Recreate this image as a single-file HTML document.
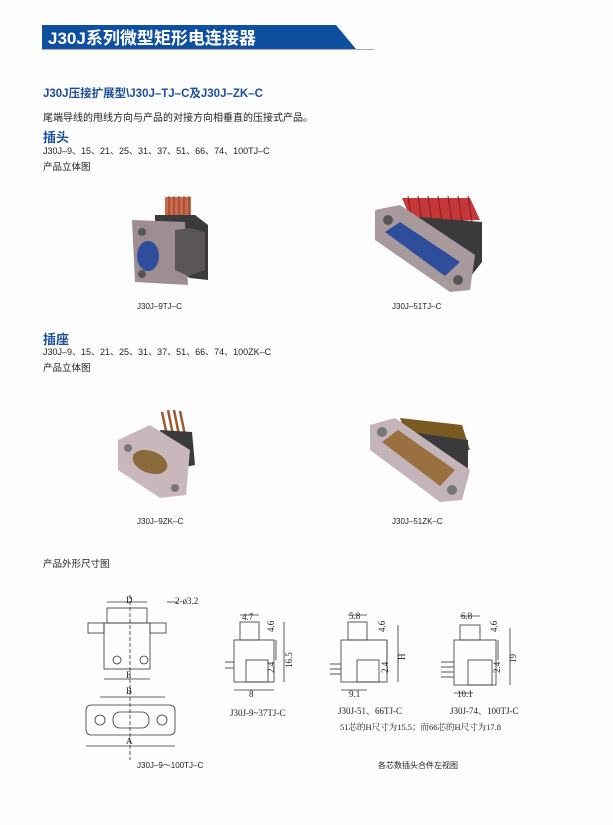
<!DOCTYPE html>
<html><head><meta charset="utf-8"><style>
html,body{margin:0;padding:0;background:#fdfdfd;}
svg{display:block;font-family:"Liberation Sans","Noto Sans CJK SC",sans-serif;}
.s{font-family:"Liberation Serif","Noto Serif CJK SC",serif;}
</style></head><body>
<svg width="613" height="825" viewBox="0 0 613 825" xmlns="http://www.w3.org/2000/svg">
<rect width="613" height="825" fill="#fdfdfd"/>
<!-- header -->
<polygon points="42,25 336,25 356,49 42,49" fill="#0f4fa0"/>
<line x1="42" y1="49.5" x2="374" y2="49.5" stroke="#aab" stroke-width="1"/>
<text x="48" y="44" font-size="17" font-weight="bold" fill="#fff">J30J系列微型矩形电连接器</text>
<text x="43" y="97" font-size="11.5" font-weight="bold" fill="#1b4d9c">J30J压接扩展型\J30J–TJ–C及J30J–ZK–C</text>
<text x="43" y="121" font-size="10" fill="#222">尾端导线的甩线方向与产品的对接方向相垂直的压接式产品。</text>
<text x="43" y="142" font-size="13" font-weight="bold" fill="#1b4d9c">插头</text>
<text x="43" y="154" font-size="9" fill="#222">J30J–9、15、21、25、31、37、51、66、74、100TJ–C</text>
<text x="43" y="170" font-size="9.5" fill="#222">产品立体图</text>

<!-- plug 1 -->
<g>
<rect x="165" y="197" width="26" height="28" fill="#c96a4a"/>
<g stroke="#8a3a20" stroke-width="1"><line x1="169" y1="196" x2="169" y2="222"/><line x1="174" y1="196" x2="174" y2="222"/><line x1="179" y1="196" x2="179" y2="222"/><line x1="184" y1="196" x2="184" y2="222"/><line x1="189" y1="196" x2="189" y2="222"/></g>
<polygon points="155,215 195,215 208,225 208,280 190,278 175,270 155,265" fill="#3b3a3c"/>
<polygon points="132,220 185,222 188,285 135,282" fill="#9e8e92" rx="4"/>
<circle cx="142" cy="232" r="4" fill="#555"/><circle cx="142" cy="274" r="4" fill="#555"/>
<ellipse cx="148" cy="256" rx="11" ry="15" fill="#2e4d9a"/>
<polygon points="175,230 190,228 205,232 205,270 188,276 175,270" fill="#5a5558"/>
</g>
<!-- plug 2 -->
<g>
<polygon points="402,198 470,198 480,220 412,222" fill="#c4383a"/>
<g stroke="#8a1a20" stroke-width="1"><line x1="408" y1="196" x2="412" y2="222"/><line x1="418" y1="196" x2="422" y2="222"/><line x1="428" y1="196" x2="432" y2="222"/><line x1="438" y1="196" x2="442" y2="222"/><line x1="448" y1="196" x2="452" y2="222"/><line x1="458" y1="196" x2="462" y2="222"/><line x1="468" y1="196" x2="472" y2="222"/></g>
<polygon points="395,215 482,222 482,262 460,290 395,250" fill="#3b3a3c"/>
<polygon points="375,210 400,205 475,255 470,290 450,292 375,240" fill="#a89a9c"/>
<circle cx="388" cy="220" r="5" fill="#555"/><circle cx="458" cy="280" r="5" fill="#555"/>
<polygon points="385,232 400,222 460,262 445,276" fill="#2e4d9a"/>
</g>
<text x="137" y="309" font-size="8" fill="#222">J30J–9TJ–C</text>
<text x="392" y="309" font-size="8" fill="#222">J30J–51TJ–C</text>

<text x="43" y="344" font-size="13" font-weight="bold" fill="#1b4d9c">插座</text>
<text x="43" y="355" font-size="9" fill="#222">J30J–9、15、21、25、31、37、51、66、74、100ZK–C</text>
<text x="43" y="371" font-size="9.5" fill="#222">产品立体图</text>

<!-- socket 1 -->
<g>
<g stroke="#9a5a30" stroke-width="2.5"><line x1="162" y1="412" x2="168" y2="440"/><line x1="168" y1="410" x2="174" y2="440"/><line x1="174" y1="410" x2="180" y2="440"/><line x1="180" y1="411" x2="186" y2="440"/></g>
<polygon points="160,430 192,432 195,465 170,470" fill="#3b3a3c"/>
<polygon points="118,440 150,425 190,450 186,495 160,498 118,470" fill="#c8b8bc"/>
<circle cx="128" cy="448" r="4" fill="#777"/><circle cx="175" cy="488" r="4" fill="#777"/>
<ellipse cx="150" cy="462" rx="18" ry="11" fill="#8a6a3a" transform="rotate(20 150 462)"/>
</g>
<!-- socket 2 -->
<g>
<polygon points="400,418 462,425 470,450 410,445" fill="#7a5a20"/>
<polygon points="395,430 468,440 468,478 440,500 395,460" fill="#3b3a3c"/>
<polygon points="370,425 395,418 470,470 462,500 440,502 370,450" fill="#c2b4b8"/>
<circle cx="382" cy="432" r="5" fill="#777"/><circle cx="452" cy="490" r="5" fill="#777"/>
<polygon points="382,442 398,430 455,470 440,486" fill="#9a7040"/>
</g>
<text x="137" y="524" font-size="8" fill="#222">J30J–9ZK–C</text>
<text x="392" y="524" font-size="8" fill="#222">J30J–51ZK–C</text>

<text x="43" y="567" font-size="9.5" fill="#222">产品外形尺寸图</text>

<!-- drawings -->
<g stroke="#333" stroke-width="0.8" fill="none">
<!-- left front view -->
<rect x="107" y="608" width="40" height="15"/>
<rect x="104" y="623" width="46" height="46"/>
<rect x="88" y="623" width="16" height="10"/><rect x="150" y="623" width="16" height="10"/>
<circle cx="117" cy="660" r="4"/><circle cx="144" cy="660" r="4"/>
<line x1="107" y1="602" x2="147" y2="602"/><line x1="104" y1="679" x2="150" y2="679"/>
<line x1="100" y1="697" x2="165" y2="697"/><line x1="86" y1="746" x2="175" y2="746"/>
<line x1="167" y1="602" x2="178" y2="602"/>
<rect x="86" y="705" width="89" height="30" rx="5"/>
<rect x="113" y="712" width="36" height="16" rx="7"/>
<circle cx="100" cy="720" r="5"/><circle cx="162" cy="720" r="5"/>
<line x1="130" y1="595" x2="130" y2="760" stroke-dasharray="4,2"/>
<!-- side views -->
<rect x="240" y="622" width="19" height="18"/><rect x="234" y="640" width="40" height="42"/><rect x="246" y="660" width="22" height="22"/>
<line x1="240" y1="615" x2="259" y2="615"/><line x1="234" y1="690" x2="274" y2="690"/><line x1="284" y1="622" x2="284" y2="682"/><line x1="276" y1="640" x2="276" y2="660"/>
<rect x="348" y="622" width="19" height="18"/><rect x="341" y="640" width="46" height="42"/><rect x="357" y="660" width="22" height="22"/>
<line x1="348" y1="615" x2="367" y2="615"/><line x1="341" y1="690" x2="367" y2="690"/><line x1="398" y1="625" x2="398" y2="682"/><line x1="387" y1="640" x2="387" y2="660"/>
<rect x="460" y="625" width="20" height="15"/><rect x="454" y="640" width="42" height="45"/><rect x="468" y="660" width="24" height="25"/>
<line x1="460" y1="616" x2="480" y2="616"/><line x1="454" y1="693" x2="473" y2="693"/><line x1="510" y1="628" x2="510" y2="685"/><line x1="498" y1="640" x2="498" y2="660"/>
</g>
<g stroke="#555" stroke-width="1"><line x1="225" y1="662" x2="234" y2="662"/><line x1="225" y1="668" x2="234" y2="668"/>
<line x1="330" y1="664" x2="341" y2="664"/><line x1="330" y1="669" x2="341" y2="669"/><line x1="330" y1="674" x2="341" y2="674"/>
<line x1="441" y1="662" x2="454" y2="662"/><line x1="441" y1="667" x2="454" y2="667"/><line x1="441" y1="672" x2="454" y2="672"/><line x1="441" y1="677" x2="454" y2="677"/></g>
<g class="s" font-size="9" fill="#222">
<text x="126" y="603">D</text><text x="175" y="604">2-ø3.2</text><text x="126" y="678">E</text><text x="126" y="694">B</text><text x="126" y="744">A</text>
<text x="242" y="620">4.7</text><text x="349" y="619">5.8</text><text x="461" y="619">6.8</text>
<text x="249" y="697">8</text><text x="349" y="697">9.1</text><text x="457" y="697">10.1</text>
<text transform="translate(274 632) rotate(-90)">4.6</text><text transform="translate(385 632) rotate(-90)">4.6</text><text transform="translate(497 632) rotate(-90)">4.6</text>
<text transform="translate(274 673) rotate(-90)">2.4</text><text transform="translate(388 673) rotate(-90)">2.4</text><text transform="translate(500 673) rotate(-90)">2.4</text>
<text transform="translate(292 668) rotate(-90)">16.5</text><text transform="translate(405 660) rotate(-90)">H</text><text transform="translate(516 663) rotate(-90)">19</text>
<text x="230" y="716">J30J-9~37TJ-C</text><text x="338" y="714">J30J-51、66TJ-C</text><text x="450" y="714">J30J-74、100TJ-C</text>
<text x="340" y="730" font-size="8.5">51芯的H尺寸为15.5；而66芯的H尺寸为17.8</text>
</g>
<text x="137" y="768" font-size="8" fill="#222">J30J–9～100TJ–C</text>
<text x="378" y="768" font-size="8" fill="#222">各芯数插头合件左视图</text>
</svg>
</body></html>
